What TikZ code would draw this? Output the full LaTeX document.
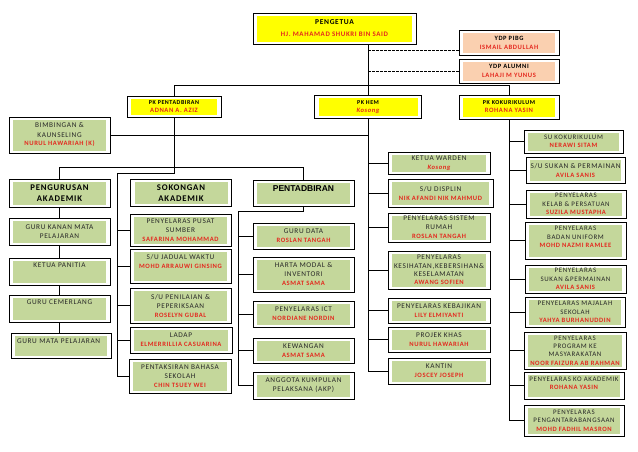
\documentclass[tikz,border=0pt]{standalone}
\usepackage{fontspec}
\setmainfont{Carlito}[LetterSpace=9]
\newfontfamily\arialf{Liberation Sans}
\definecolor{gfill}{RGB}{196,215,155}
\definecolor{yfill}{RGB}{255,255,0}
\definecolor{pfill}{RGB}{250,208,176}
\definecolor{rtxt}{RGB}{228,40,30}
\definecolor{dtxt}{RGB}{40,40,40}
\newcommand\nm[1]{{\color{rtxt}\bfseries\fontsize{6.6}{9}\selectfont #1}}
\begin{document}
\begin{tikzpicture}[x=1pt,y=-1pt,
  base/.style={draw=black, line width=0.9pt, fill=white, inner sep=0pt, align=center,
    text=dtxt, font=\fontsize{7.3}{9}\selectfont},
  inset/.style={path picture={\fill[#1] ([shift={(4pt,2.5pt)}]path picture bounding box.south west)
    rectangle ([shift={(-4pt,-2.5pt)}]path picture bounding box.north east);}},
  gbox/.style={base, inset=gfill},
  ybox/.style={base, inset=yfill, text=black},
  pbox/.style={base, inset=pfill, text=black},
  sz/.style 2 args={minimum width=#1, minimum height=#2},
  link/.style={line width=0.9pt, draw=black},
  dlink/.style={line width=0.8pt, draw=black, dash pattern=on 2.5pt off 1.5pt},
  hd/.style={font=\fontsize{8.7}{10.5}\selectfont\bfseries, text=black},
  pkf/.style={font=\fontsize{6}{8}\selectfont\bfseries}
]
\useasboundingbox (0,0) rectangle (638,451);

% ---- top level
\node[ybox, sz={163pt}{31pt}, font=\fontsize{7.5}{9}\selectfont\bfseries] (pg) at (334.5,28.5)
  {PENGETUA\\[3pt]\nm{\fontsize{6.9}{9}\selectfont HJ. MAHAMAD SHUKRI BIN SAID}};
\node[pbox, sz={100pt}{25pt}, font=\fontsize{6.5}{9}\selectfont\bfseries] (pibg) at (509,42.5)
  {YDP PIBG\\\nm{ISMAIL ABDULLAH}};
\node[pbox, sz={100pt}{24pt}, font=\fontsize{6.5}{9}\selectfont\bfseries] (alu) at (509,71)
  {YDP ALUMNI\\\nm{LAHAJI  M YUNUS}};

\node[ybox, sz={94pt}{21pt}, pkf] (pkp) at (174,106.5) {PK  PENTADBIRAN\\\nm{ADNAN A. AZIZ}};
\node[ybox, sz={107pt}{23pt}, pkf] (pkh) at (368,107) {PK  HEM\\\nm{\itshape Kosong}};
\node[ybox, sz={100pt}{24pt}, pkf] (pkk) at (509,107) {PK  KOKURIKULUM\\\nm{ROHANA YASIN}};

\node[gbox, sz={101pt}{36pt}] (bk) at (59.5,135) {BIMBINGAN \&\\KAUNSELING\\\nm{NURUL HAWARIAH (K)}};

% ---- second level
\node[gbox, sz={101pt}{28pt}, hd] (pa) at (59.5,193) {PENGURUSAN\\AKADEMIK};
\node[gbox, sz={101pt}{27pt}, hd] (sa) at (181,193) {SOKONGAN\\AKADEMIK};
\node[gbox, sz={101pt}{26pt}, font=\arialf\fontsize{8.5}{10}\selectfont\bfseries, text=black] (pt) at (303.5,193.5)
  {PENTADBIRAN\\\mbox{}};

% ---- pengurusan akademik
\node[gbox, sz={101pt}{27pt}] (gk) at (59.5,231.5) {GURU KANAN MATA\\PELAJARAN};
\node[gbox, sz={101pt}{27pt}] (kp) at (59.5,271.5) {KETUA PANITIA\\[3pt]\mbox{}};
\node[gbox, sz={101pt}{27pt}] (gc) at (59.5,308.5) {GURU CEMERLANG\\[3pt]\mbox{}};
\node[gbox, sz={100pt}{25pt}, align=left, text width=88pt] (gm) at (61,345.5) {GURU  MATA PELAJARAN\\\mbox{}};

% ---- sokongan akademik
\node[gbox, sz={101pt}{32pt}] (ps) at (180.5,230) {PENYELARAS PUSAT\\SUMBER\\\nm{SAFARINA MOHAMMAD}};
\node[gbox, sz={101pt}{34pt}] (jw) at (180.5,266) {S/U JADUAL WAKTU\\\nm{MOHD ARRAUWI GINSING}\\\mbox{}};
\node[gbox, sz={101pt}{35pt}] (pp) at (180.5,305.5) {S/U PENILAIAN \&\\PEPERIKSAAN\\\nm{ROSELYN GUBAL}};
\node[gbox, sz={102pt}{26pt}] (ld) at (181,340) {LADAP\\\nm{ELMERRILLIA CASUARINA}};
\node[gbox, sz={102pt}{34pt}] (pb) at (180,376) {PENTAKSIRAN BAHASA\\SEKOLAH\\\nm{CHIN TSUEY WEI}};

% ---- pentadbiran
\node[gbox, sz={101pt}{26pt}] (gd) at (303.5,236) {GURU DATA\\\nm{ROSLAN TANGAH}};
\node[gbox, sz={101pt}{35pt}] (hm) at (303.5,274.5) {HARTA MODAL \&\\INVENTORI\\\nm{ASMAT SAMA}};
\node[gbox, sz={101pt}{26pt}] (ict) at (303.5,314) {PENYELARAS ICT\\\nm{NORDIANE NORDIN}};
\node[gbox, sz={101pt}{25pt}] (kw) at (303.5,350.5) {KEWANGAN\\\nm{ASMAT SAMA}};
\node[gbox, sz={101pt}{27pt}] (akp) at (303.5,385.5) {ANGGOTA KUMPULAN\\PELAKSANA (AKP)};

% ---- HEM
\node[gbox, sz={102pt}{22pt}] (kwd) at (439,163) {KETUA WARDEN\\\nm{\itshape Kosong}};
\node[gbox, sz={105pt}{28pt}] (dis) at (440.5,193) {S/U DISPLIN\\\nm{NIK AFANDI NIK MAHMUD}};
\node[gbox, sz={102pt}{29pt}] (sr) at (439,227.5) {PENYELARAS SISTEM\\RUMAH\\\nm{ROSLAN TANGAH}};
\node[gbox, sz={102pt}{38pt}, font=\fontsize{7.3}{8.4}\selectfont] (kes) at (439,270)
  {PENYELARAS\\KESIHATAN,KEBERSIHAN\&\\KESELAMATAN\\\nm{AWANG SOFIEN}};
\node[gbox, sz={102pt}{25pt}] (kbj) at (439,310.5) {PENYELARAS KEBAJIKAN\\\nm{LILY ELMIYANTI}};
\node[gbox, sz={102pt}{25pt}] (pk) at (439,339.5) {PROJEK KHAS\\\nm{NURUL HAWARIAH}};
\node[gbox, sz={102pt}{26pt}] (kan) at (439,371) {KANTIN\\\nm{JOSCEY JOSEPH}};

% ---- Kokurikulum
\node[gbox, sz={99pt}{23pt}, font=\fontsize{6.9}{8.5}\selectfont] (suk) at (573.5,141.5) {SU KOKURIKULUM\\\nm{NERAWI SITAM}};
\node[gbox, sz={99pt}{26pt}] (ssp) at (575.5,170) {S/U  SUKAN \& PERMAINAN\\\nm{AVILA SANIS}};
\node[gbox, sz={100pt}{28pt}, font=\fontsize{6.9}{8.5}\selectfont] (klb) at (576,204) {PENYELARAS\\KELAB \& PERSATUAN\\\nm{SUZILA MUSTAPHA}};
\node[gbox, sz={101pt}{37pt}, font=\fontsize{6.9}{8.5}\selectfont] (bu) at (575.5,240.5) {PENYELARAS\\BADAN UNIFORM\\\nm{MOHD NAZMI RAMLEE}\\[-2pt]\mbox{}};
\node[gbox, sz={101pt}{28pt}, font=\fontsize{6.9}{8.5}\selectfont] (spm) at (575.5,279) {PENYELARAS\\SUKAN \&PERMAINAN\\\nm{AVILA SANIS}};
\node[gbox, sz={100pt}{30pt}, font=\fontsize{6.9}{8.5}\selectfont] (mj) at (575,312) {PENYELARAS MAJALAH\\SEKOLAH\\\nm{YAHYA BURHANUDDIN}};
\node[gbox, sz={102pt}{37pt}, font=\fontsize{6.9}{8.3}\selectfont] (pm) at (575,350.5) {PENYELARAS\\PROGRAM KE\\MASYARAKATAN\\\nm{NOOR FAIZURA AB RAHMAN}};
\node[gbox, sz={100pt}{27pt}, font=\fontsize{6.9}{8.5}\selectfont] (ko) at (574,385.5) {PENYELARAS KO AKADEMIK\\\nm{ROHANA  YASIN}\\[-4pt]\mbox{}};
\node[gbox, sz={100pt}{31pt}, font=\fontsize{6.9}{8.5}\selectfont] (pa2) at (574,420.5) {PENYELARAS\\PENGANTARABANGSAAN\\\nm{MOHD FADHIL MASRON}};

% ---- connectors: top
\draw[link] (pg.south -| pkh.north) -- (pkh.north);
\coordinate (d1) at (368,50);
\coordinate (d2) at (368,71);
\draw[dlink] (d1) -- (d1 -| pibg.west);
\draw[dlink] (d2) -- (d2 -| alu.west);
\coordinate (h1) at (174,85);
\coordinate (h2) at (509,85);
\draw[link] (pkp.north) -- (h1) -- (h2) -- (pkk.north);
\draw[link] (bk.east) -- (bk.east -| pkh.south);

% ---- PK Pentadbiran
\coordinate (j1) at (174,173);
\coordinate (sb) at (117,173);
\coordinate (hl) at (59.5,167);
\coordinate (hr) at (303.5,167);
\draw[link] (pkp.south) -- (j1) -- (sb) -- (sb |- pb.west) -- (pb.west);
\draw[link] (pa.north) -- (hl) -- (hr) -- (pt.north);
\foreach \n in {ps,jw,pp,ld} \draw[link] (sb |- \n.west) -- (\n.west);

% ---- pengurusan akademik chain
\draw[link] (pa.south) -- (gk.north);
\draw[link] (gk.south) -- (kp.north);
\draw[link] (kp.south) -- (gc.north);
\draw[link] (gc.south) -- (gc.south |- gm.north);

% ---- pentadbiran bus
\coordinate (pbus) at (238,211);
\draw[link] (pt.south) -- (pt.south |- pbus) -- (pbus) -- (pbus |- akp.west) -- (akp.west);
\foreach \n in {gd,hm,ict,kw} \draw[link] (pbus |- \n.west) -- (\n.west);

% ---- HEM bus
\draw[link] (pkh.south) -- (pkh.south |- kan.west) -- (kan.west);
\foreach \n in {kwd,dis,sr,kes,kbj,pk} \draw[link] (pkh.south |- \n.west) -- (\n.west);

% ---- Kokurikulum bus
\draw[link] (pkk.south) -- (pkk.south |- pa2.west) -- (pa2.west);
\foreach \n in {suk,ssp,klb,bu,spm,mj,pm,ko} \draw[link] (pkk.south |- \n.west) -- (\n.west);
\end{tikzpicture}
\end{document}
